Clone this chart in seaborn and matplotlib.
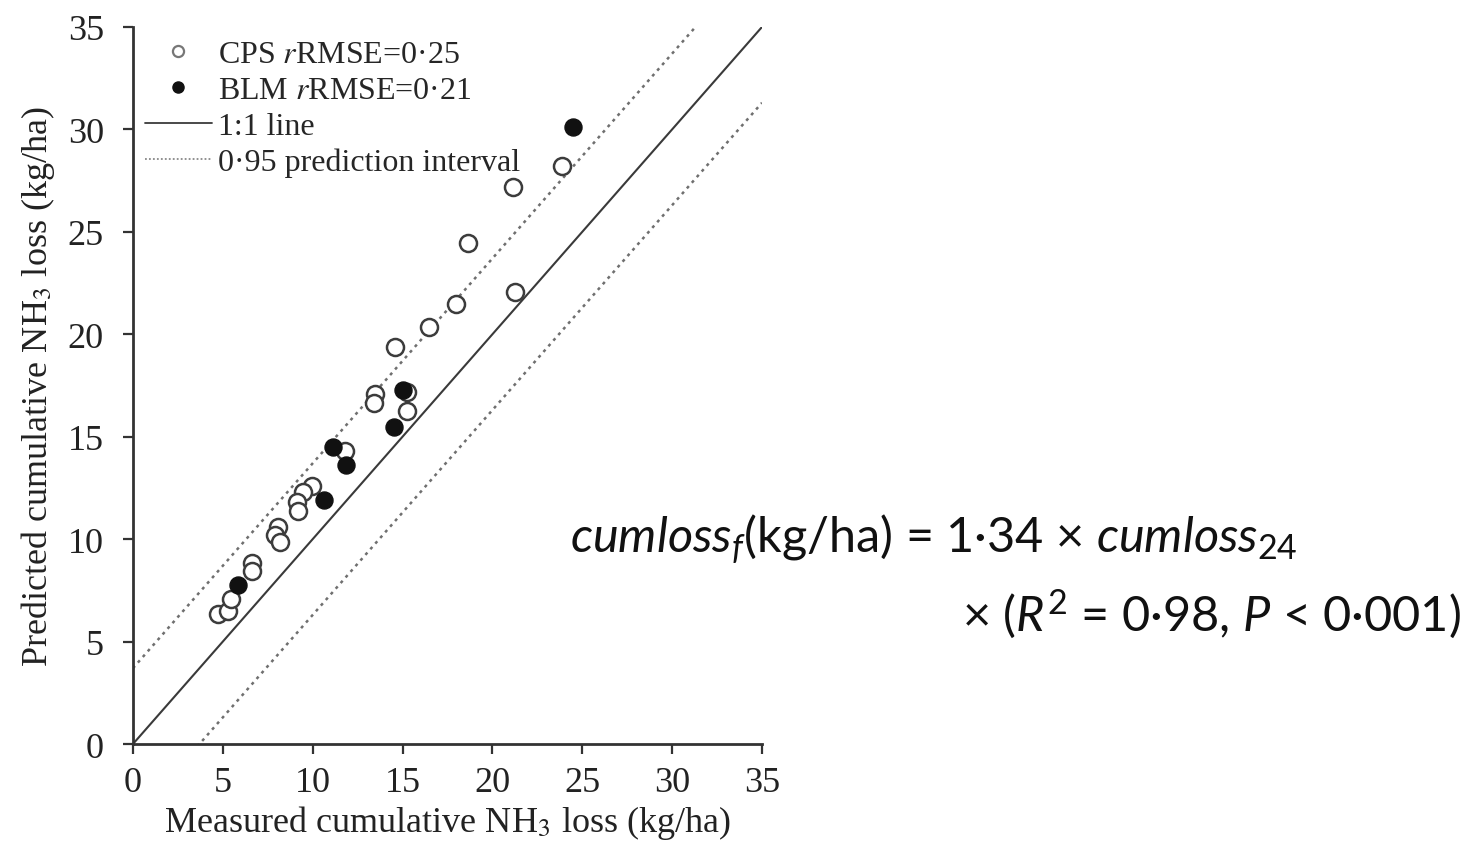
import numpy as np
import pandas as pd
import matplotlib
matplotlib.use("Agg")
import matplotlib.pyplot as plt
from matplotlib.lines import Line2D
import seaborn as sns

# Measured vs predicted cumulative NH3 loss (kg/ha)
cps_measured = [4.75, 5.3, 5.45, 6.6, 6.6, 8.05, 7.9, 8.2, 9.94, 9.44, 9.11, 9.2,
                11.8, 13.45, 13.42, 15.25, 15.27, 14.6, 16.47, 17.97, 21.26, 18.66,
                21.16, 23.85]
cps_predicted = [6.35, 6.5, 7.1, 8.86, 8.46, 10.57, 10.2, 9.87, 12.6, 12.28, 11.79, 11.38,
                 14.3, 17.1, 16.67, 17.2, 16.26, 19.38, 20.36, 21.5, 22.06, 24.47,
                 27.2, 28.2]
blm_measured = [5.84, 10.65, 11.11, 11.85, 15.04, 14.5, 24.5]
blm_predicted = [7.78, 11.92, 14.52, 13.6, 17.26, 15.47, 30.1]

# 1:1 reference line and 0.95 prediction interval half-width
line_x = [0, 35]
pi_halfwidth = 3.7

cps_label = "CPS $r$RMSE=0·25"
blm_label = "BLM $r$RMSE=0·21"
ticks = [0, 5, 10, 15, 20, 25, 30, 35]

sns.set_theme(style="ticks")
plt.rcParams["font.family"] = ["Liberation Serif", "DejaVu Serif"]
plt.rcParams["mathtext.fontset"] = "stix"
plt.rcParams["mathtext.rm"] = "Lato"
plt.rcParams["mathtext.it"] = "Lato:italic"

fig = plt.figure(figsize=(14.77, 8.45), dpi=100)
ax = fig.add_axes([0.090, 0.1183, 0.4259, 0.8486])

ref = pd.DataFrame({"x": line_x, "y": line_x})
upper = pd.DataFrame({"x": line_x, "y": [v + pi_halfwidth for v in line_x]})
lower = pd.DataFrame({"x": line_x, "y": [v - pi_halfwidth for v in line_x]})

sns.lineplot(data=ref, x="x", y="y", ax=ax, color="#3a3a3a", lw=1.5, zorder=2)
for d in (upper, lower):
    sns.lineplot(data=d, x="x", y="y", ax=ax, color="#6f6f6f", lw=1.8,
                 linestyle=(0, (1.2, 1.8)), zorder=2)

sns.scatterplot(x=cps_measured, y=cps_predicted, ax=ax, marker="o", s=150,
                facecolor="white", edgecolor="#3c3c3c", linewidth=1.8, zorder=3)
sns.scatterplot(x=blm_measured, y=blm_predicted, ax=ax, marker="o", s=150,
                color="#111111", edgecolor="#111111", linewidth=1.0, zorder=4)

ax.set_xlim(0, 35)
ax.set_ylim(0, 35)
ax.set_xticks(ticks)
ax.set_yticks(ticks)
ax.tick_params(axis="both", direction="out", length=7, width=1.6,
               labelsize=26, color="#333333", labelcolor="#222222")
ax.tick_params(axis="x", pad=9)
ax.tick_params(axis="y", pad=14)
for lab in ax.get_xticklabels() + ax.get_yticklabels():
    lab.set_fontfamily("Liberation Serif")
sns.despine(ax=ax)
for s in ("left", "bottom"):
    ax.spines[s].set_linewidth(2.0)
    ax.spines[s].set_color("#333333")

ax.set_xlabel("Measured cumulative NH$_3$ loss (kg/ha)", fontsize=26,
              color="#222222", labelpad=3)
ax.set_ylabel("Predicted cumulative NH$_3$ loss (kg/ha)", fontsize=26,
              color="#222222", labelpad=8)

handles = [
    Line2D([], [], marker="o", ls="", markersize=8, markerfacecolor="white",
           markeredgecolor="#777777", markeredgewidth=1.6, label=cps_label),
    Line2D([], [], marker="o", ls="", markersize=8, color="#111111", label=blm_label),
    Line2D([], [], color="#3a3a3a", lw=1.3, label="1:1 line"),
    Line2D([], [], color="#888888", lw=1.3, linestyle=(0, (1, 1.2)),
           label="0·95 prediction interval"),
]
ax.legend(handles=handles, loc="upper left", bbox_to_anchor=(-0.017, 1.013),
          frameon=False, fontsize=23, handlelength=2.1, handletextpad=0.2,
          labelspacing=0.2, borderaxespad=0.3)

eq_kw = dict(fontsize=35, family="Lato", color="#111111", math_fontfamily="custom")
fig.text(0.386, 0.346,
         r"$\mathit{cumloss}_{\mathit{f}}$(kg/ha) = 1·34 × $\mathit{cumloss}_{\mathrm{24}}$",
         ha="left", va="baseline", **eq_kw)
fig.text(0.989, 0.253,
         r"× ($\mathit{R}^{\mathrm{2}}$ = 0·98, $\mathit{P}$ < 0·001)",
         ha="right", va="baseline", **eq_kw)

fig.savefig("out.png", dpi=100)
